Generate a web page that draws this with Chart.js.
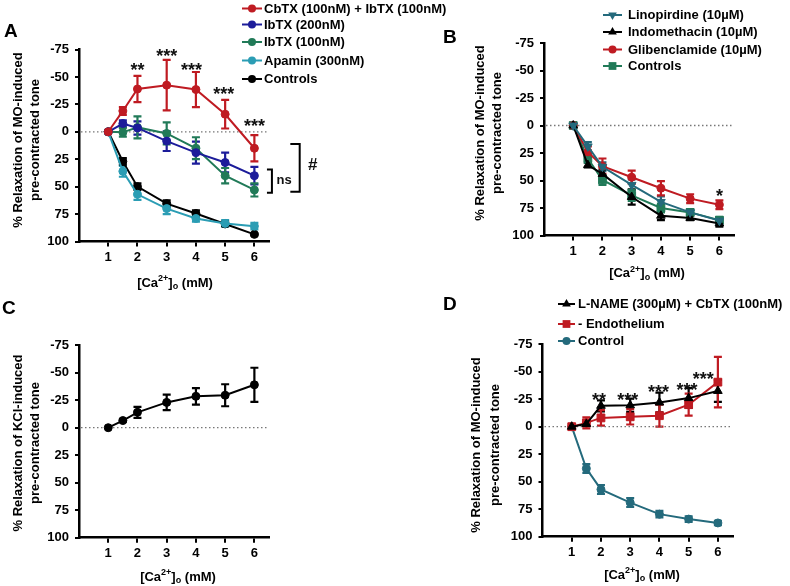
<!DOCTYPE html>
<html>
<head>
<meta charset="utf-8">
<script src="https://cdn.jsdelivr.net/npm/chart.js@4.4.0/dist/chart.umd.min.js"></script>
<style>
  body { margin: 0; background: #fff; }
  #wrap { position: relative; width: 790px; height: 586px; }
  #wrap canvas { position: absolute; left: 0; top: 0; }
</style>
</head>
<body>
<div id="wrap">
  <canvas id="chartA" width="790" height="586"></canvas>
  <canvas id="chartB" width="790" height="586"></canvas>
  <canvas id="chartC" width="790" height="586"></canvas>
  <canvas id="chartD" width="790" height="586"></canvas>
</div>
<script>
// x values ([Ca2+]o, mM) and axis ticks
const doses = [1, 1.5, 2, 3, 4, 5, 6];
const doseTicks = [1, 2, 3, 4, 5, 6];

// Panel A
const cbtxIbtx = [0, -19, -39, -42.5, -38.5, -16, 15];
const cbtxIbtxErr = [0, 3.5, 12, 23, 16, 13, 12];
const ibtx200 = [0, -7.5, -3.5, 8.5, 19, 28, 40];
const ibtx200Err = [0, 3, 6, 9, 10, 9, 8];
const ibtx100 = [0, 0.5, -4, 1.5, 15, 40, 53];
const ibtx100Err = [0, 4, 10, 10, 10, 7, 6];
const apamin = [0, 36, 57, 70, 79, 83.5, 86];
const apaminErr = [0, 5, 5, 5, 3, 3, 3];
const controlsA = [0, 27, 50, 65.5, 74.5, 84, 93.5];
const controlsAErr = [0, 3, 3, 3, 3, 2, 1];

// Panel B
const linopirdine = [0, 19, 37.5, 54, 69.5, 79, 86.5];
const linopirdineErr = [0, 4, 4, 5, 5, 3, 3];
const indomethacin = [0, 36, 44, 65, 82, 84, 89];
const indomethacinErr = [0, 2, 4, 7, 4, 2, 3];
const glibenclamide = [0, 24, 37, 47, 57, 66.5, 72];
const glibenclamideErr = [0, 5, 7, 6, 6.5, 4, 4];
const controlsB = [0, 30, 49.5, 63.5, 75, 79, 86];
const controlsBErr = [0, 4, 4.5, 5, 4, 2, 2];

// Panel C
const kclRelax = [0, -6.5, -14, -23, -28.5, -29.5, -39];
const kclRelaxErr = [0, 1, 5, 7, 7.5, 10, 15.5];

// Panel D
const lnameCbtx = [0, -2.5, -19, -19.5, -22, -26, -32.5];
const lnameCbtxErr = [0, 2, 5, 6, 9, 9, 10];
const noEndo = [0, -3.5, -8, -9, -10, -20, -40.5];
const noEndoErr = [0, 5, 7, 7, 10, 10, 23];
const controlD = [0, 38, 57, 69, 79.5, 84, 87.5];
const controlDErr = [0, 4, 4, 4, 3, 2.5, 2];

// significance marks, [x, y, text] in data units
const starsA = [[2, -60, '**'], [3, -72.5, '***'], [3.85, -60, '***'], [4.95, -38, '***'], [6, -9, '***']];
const starsB = [[6, 60, '*']];
const starsD = [[1.93, -28, '**'], [2.92, -28, '***'], [3.97, -35, '***'], [4.94, -37, '***'], [5.5, -47, '***']];

const FONT = '"Liberation Sans", Arial, Helvetica, sans-serif';
const RED = '#bf1b22', NAVY = '#1c1c9a', GREEN = '#217a58', CYAN = '#2b9db4', TEAL = '#246a7c', BLACK = '#000';

function series(label, ys, errs, color, style, radius, rotation) {
  return {
    label: label,
    data: doses.map((x, i) => ({ x: x, y: ys[i] })),
    errors: errs,
    borderColor: color,
    backgroundColor: color,
    borderWidth: 2,
    pointStyle: style || 'circle',
    pointRadius: radius || 4,
    pointRotation: rotation || 0,
    pointBorderWidth: 1,
    tension: 0
  };
}

function marker(ctx, style, x, y, r, rot, color) {
  ctx.save();
  ctx.fillStyle = color;
  ctx.translate(x, y);
  ctx.rotate((rot || 0) * Math.PI / 180);
  ctx.beginPath();
  if (style === 'rect') {
    const s = r * Math.SQRT1_2;
    ctx.rect(-s, -s, 2 * s, 2 * s);
  } else if (style === 'triangle') {
    for (let k = 0; k < 3; k++) {
      const a = -Math.PI / 2 + k * 2 * Math.PI / 3;
      ctx.lineTo(Math.cos(a) * r, Math.sin(a) * r);
    }
    ctx.closePath();
  } else {
    ctx.arc(0, 0, r, 0, Math.PI * 2);
  }
  ctx.fill();
  ctx.restore();
}

function caTitle(ctx, cx, cy) {
  const parts = [
    { t: '[Ca', size: 13, dy: 0 },
    { t: '2+', size: 9, dy: -4 },
    { t: ']', size: 13, dy: 0 },
    { t: 'o', size: 9, dy: 4 },
    { t: ' (mM)', size: 13, dy: 0 }
  ];
  let total = 0;
  parts.forEach(p => { ctx.font = 'bold ' + p.size + 'px ' + FONT; p.w = ctx.measureText(p.t).width; total += p.w; });
  let x = cx - total / 2;
  ctx.textAlign = 'left';
  ctx.textBaseline = 'middle';
  parts.forEach(p => { ctx.font = 'bold ' + p.size + 'px ' + FONT; ctx.fillText(p.t, x, cy + p.dy); x += p.w; });
}

const errorBars = {
  id: 'errorBars',
  beforeDatasetsDraw(chart) {
    const ctx = chart.ctx, xs = chart.scales.x, ys = chart.scales.y;
    chart.data.datasets.forEach(ds => {
      ctx.save();
      ctx.strokeStyle = ds.borderColor;
      ctx.lineWidth = 2.2;
      ds.data.forEach((p, i) => {
        const e = ds.errors[i];
        if (!e) return;
        const px = xs.getPixelForValue(p.x);
        const y1 = ys.getPixelForValue(p.y - e), y2 = ys.getPixelForValue(p.y + e);
        ctx.beginPath();
        ctx.moveTo(px, y1); ctx.lineTo(px, y2);
        ctx.moveTo(px - 4, y1); ctx.lineTo(px + 4, y1);
        ctx.moveTo(px - 4, y2); ctx.lineTo(px + 4, y2);
        ctx.stroke();
      });
      ctx.restore();
    });
  }
};

function decorPlugin(d) {
  return {
    id: 'decor',
    beforeDatasetsDraw(chart) {
      const ctx = chart.ctx, a = chart.chartArea, ys = chart.scales.y;
      const y0 = ys.getPixelForValue(0);
      ctx.save();
      ctx.strokeStyle = '#777';
      ctx.lineWidth = 1.3;
      ctx.setLineDash([1.5, 2.5]);
      ctx.beginPath();
      ctx.moveTo(a.left + 2, y0); ctx.lineTo(a.right, y0);
      ctx.stroke();
      ctx.restore();
    },
    afterDraw(chart) {
      const ctx = chart.ctx, xs = chart.scales.x, ys = chart.scales.y;
      ctx.save();
      ctx.fillStyle = '#000';
      // panel letter
      ctx.font = 'bold 19px ' + FONT;
      ctx.textAlign = 'left';
      ctx.textBaseline = 'middle';
      ctx.fillText(d.letter[0], d.letter[1], d.letter[2]);
      // y title, two lines
      ctx.font = 'bold 13px ' + FONT;
      ctx.textAlign = 'center';
      d.yTitle.forEach((t, i) => {
        ctx.save();
        ctx.translate(d.yTitleX[i], d.yTitleY);
        ctx.rotate(-Math.PI / 2);
        ctx.fillText(t, 0, 0);
        ctx.restore();
      });
      // x title
      caTitle(ctx, d.xTitle[0], d.xTitle[1]);
      // legend
      if (d.legend) {
        const L = d.legend;
        chart.data.datasets.forEach((ds, i) => {
          const y = L.rows[i];
          ctx.strokeStyle = ds.borderColor;
          ctx.lineWidth = 2;
          ctx.beginPath();
          ctx.moveTo(L.x0, y); ctx.lineTo(L.x1, y);
          ctx.stroke();
          marker(ctx, ds.pointStyle, (L.x0 + L.x1) / 2, y, ds.pointRadius, ds.pointRotation, ds.borderColor);
          ctx.fillStyle = '#000';
          ctx.font = 'bold 13px ' + FONT;
          ctx.textAlign = 'left';
          ctx.textBaseline = 'middle';
          ctx.fillText(ds.label, L.text, y + 0.5);
        });
      }
      // stars
      ctx.fillStyle = '#111';
      ctx.font = 'bold 18px ' + FONT;
      ctx.textAlign = 'center';
      ctx.textBaseline = 'alphabetic';
      (d.stars || []).forEach(s => {
        ctx.fillText(s[2], xs.getPixelForValue(s[0]), ys.getPixelForValue(s[1]) + 10);
      });
      // brackets
      (d.brackets || []).forEach(b => {
        const xa = xs.getPixelForValue(b.x0), xb = xs.getPixelForValue(b.x1);
        const ya = ys.getPixelForValue(b.y0), yb = ys.getPixelForValue(b.y1);
        ctx.strokeStyle = '#000';
        ctx.lineWidth = 2;
        ctx.beginPath();
        ctx.moveTo(xa, ya); ctx.lineTo(xb, ya); ctx.lineTo(xb, yb); ctx.lineTo(xa, yb);
        ctx.stroke();
        ctx.font = 'bold ' + b.size + 'px ' + FONT;
        ctx.textAlign = 'center';
        ctx.textBaseline = 'middle';
        ctx.fillText(b.label, xs.getPixelForValue(b.tx), ys.getPixelForValue(b.ty));
      });
      ctx.restore();
    }
  };
}

function makePanel(id, area, datasets, decor) {
  const tickFont = { family: FONT, size: 13, weight: 'bold' };
  return new Chart(document.getElementById(id), {
    type: 'line',
    data: { datasets: datasets },
    options: {
      responsive: false,
      animation: false,
      devicePixelRatio: 1,
      layout: { padding: { left: area.left - 40, right: 790 - area.right, top: area.top, bottom: 586 - area.bottom - 30 } },
      plugins: { legend: { display: false }, tooltip: { enabled: false } },
      scales: {
        x: {
          type: 'linear', min: 0, max: 6.5,
          afterBuildTicks: s => { s.ticks = doseTicks.map(v => ({ value: v })); },
          afterFit: s => { s.height = 30; },
          grid: { drawOnChartArea: false, color: '#000', lineWidth: 2, tickLength: 5 },
          border: { color: '#000', width: 2.5 },
          ticks: { color: '#000', font: tickFont, padding: 3, maxRotation: 0, callback: v => String(v) }
        },
        y: {
          type: 'linear', reverse: true, min: -75, max: 100,
          afterFit: s => { s.width = 40; },
          grid: { drawOnChartArea: false, color: '#000', lineWidth: 2, tickLength: 4 },
          border: { color: '#000', width: 2.5 },
          ticks: { stepSize: 25, color: '#000', font: tickFont, padding: 6, callback: v => String(v) }
        }
      }
    },
    plugins: [errorBars, decorPlugin(decor)]
  });
}

makePanel('chartA', { left: 79, right: 269, top: 49.5, bottom: 241.5 }, [
  series('CbTX (100nM) + IbTX (100nM)', cbtxIbtx, cbtxIbtxErr, RED),
  series('IbTX (200nM)', ibtx200, ibtx200Err, NAVY),
  series('IbTX (100nM)', ibtx100, ibtx100Err, GREEN),
  series('Apamin (300nM)', apamin, apaminErr, CYAN),
  series('Controls', controlsA, controlsAErr, BLACK)
], {
  letter: ['A', 4, 32],
  yTitle: ['% Relaxation of MO-induced', 'pre-contracted tone'], yTitleX: [18.5, 35], yTitleY: 140,
  xTitle: [175, 283],
  legend: { x0: 242, x1: 262, text: 264, rows: [8.5, 24.5, 42, 60.5, 79] },
  stars: starsA,
  brackets: [
    { x0: 6.43, x1: 6.6, y0: 34.3, y1: 55.6, label: 'ns', tx: 7.02, ty: 44.5, size: 13 },
    { x0: 7.23, x1: 7.55, y0: 11.2, y1: 54.7, label: '#', tx: 8.0, ty: 30.5, size: 17 }
  ]
});

makePanel('chartB', { left: 544, right: 734, top: 43, bottom: 235.5 }, [
  series('Linopirdine (10\u00b5M)', linopirdine, linopirdineErr, TEAL, 'triangle', 5, 180),
  series('Indomethacin (10\u00b5M)', indomethacin, indomethacinErr, BLACK, 'triangle', 5),
  series('Glibenclamide (10\u00b5M)', glibenclamide, glibenclamideErr, RED, 'circle', 4),
  series('Controls', controlsB, controlsBErr, GREEN, 'rect', 5.5)
], {
  letter: ['B', 443, 38],
  yTitle: ['% Relaxation of MO-induced', 'pre-contracted tone'], yTitleX: [480, 497.5], yTitleY: 133,
  xTitle: [647, 273.5],
  legend: { x0: 603, x1: 622, text: 628, rows: [15, 32, 49.5, 66] },
  stars: starsB
});

makePanel('chartC', { left: 79, right: 269, top: 345.2, bottom: 537.7 }, [
  series('KCl', kclRelax, kclRelaxErr, BLACK)
], {
  letter: ['C', 2, 309],
  yTitle: ['% Relaxation of KCl-induced', 'pre-contracted tone'], yTitleX: [18.5, 35], yTitleY: 443,
  xTitle: [178, 577]
});

makePanel('chartD', { left: 542.5, right: 732.5, top: 344.2, bottom: 536.7 }, [
  series('L-NAME (300\u00b5M) + CbTX (100nM)', lnameCbtx, lnameCbtxErr, BLACK, 'triangle', 5),
  series('- Endothelium', noEndo, noEndoErr, RED, 'rect', 5.5),
  series('Control', controlD, controlDErr, TEAL, 'circle', 4)
], {
  letter: ['D', 443, 305],
  yTitle: ['% Relaxation of MO-induced', 'pre-contracted tone'], yTitleX: [476, 495], yTitleY: 445,
  xTitle: [642, 575],
  legend: { x0: 558, x1: 575, text: 578, rows: [304, 324, 341] },
  stars: starsD
});
</script>
</body>
</html>
